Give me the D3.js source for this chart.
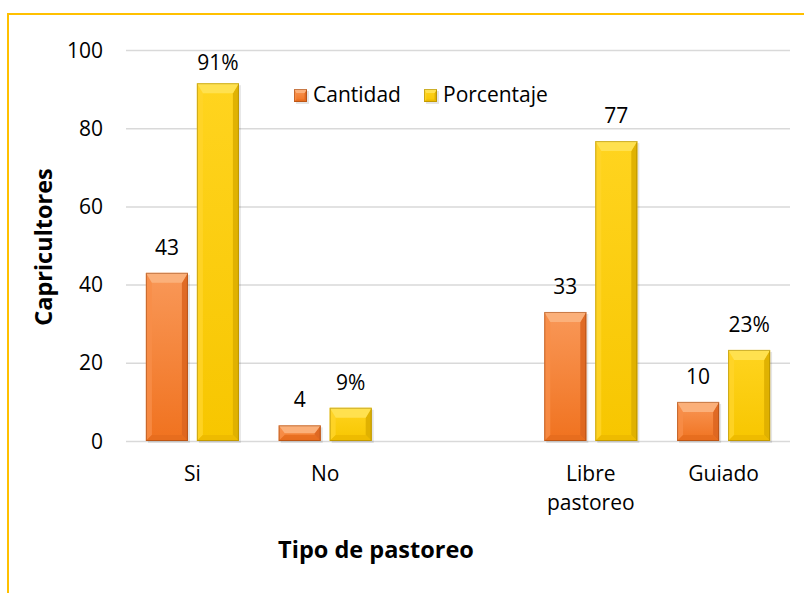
<!DOCTYPE html>
<html><head><meta charset="utf-8">
<script src="https://cdn.jsdelivr.net/npm/d3@7"></script>
<style>body{margin:0;background:#fff}svg{display:block}text{font-family:"Open Sans",sans-serif;fill:#000}</style>
</head><body>
<script>
const categories = ["Si", "No", "", "Libre pastoreo", "Guiado"];
const cantidad = [43, 4, null, 33, 10];
const porcentaje = [91.5, 8.5, null, 76.7, 23.3];
const cantidadLabels = ["43", "4", null, "33", "10"];
const porcentajeLabels = ["91%", "9%", null, "77", "23%"];
const seriesNames = ["Cantidad", "Porcentaje"];
const yTicks = [0, 20, 40, 60, 80, 100];

const W = 804, H = 593;
const svg = d3.select("body").append("svg").attr("width", W).attr("height", H);

const palette = {
  Cantidad: {id: "gC", g0: "#F99858", g1: "#F0721F", top: "#FBB07A", left: "#F88D48", right: "#DD6620", bottom: "#E56B1E", edge: "#8A3A0C"},
  Porcentaje: {id: "gP", g0: "#FFD41F", g1: "#F7C600", top: "#FFE14F", left: "#FFD52A", right: "#DDAE00", bottom: "#EBB800", edge: "#8F7300"}
};
const defs = svg.append("defs");
Object.values(palette).forEach(c => {
  const lg = defs.append("linearGradient").attr("id", c.id).attr("x1", 0).attr("y1", 0).attr("x2", 0).attr("y2", 1);
  lg.append("stop").attr("offset", "0%").attr("stop-color", c.g0);
  lg.append("stop").attr("offset", "100%").attr("stop-color", c.g1);
});

// frame
svg.append("rect").attr("x", 8).attr("y", 14).attr("width", W + 20).attr("height", H + 20)
  .attr("fill", "none").attr("stroke", "#FFC000").attr("stroke-width", 2);

const plot = {left: 126, right: 790, top: 50, bottom: 441};
const x = d3.scaleBand().domain(categories.map((c, i) => i)).range([plot.left, plot.right]).padding(0);
const xs = d3.scaleBand().domain(seriesNames).range([0, x.bandwidth()]).paddingInner(0.176).paddingOuter(0.39);
const y = d3.scaleLinear().domain([0, 100]).range([plot.bottom, plot.top]);

// gridlines
const yAxis = d3.axisLeft(y).tickValues(yTicks).tickSize(-(plot.right - plot.left)).tickPadding(23);
const ga = svg.append("g").attr("transform", `translate(${plot.left},0)`).call(yAxis);
ga.select(".domain").remove();
ga.selectAll(".tick line").attr("stroke", "#D9D9D9").attr("stroke-width", 1.5);
ga.selectAll(".tick text").attr("font-size", 21).attr("font-family", "Open Sans").attr("fill", "#000").attr("dy", "0.34em");

// bars with bevel
function bevelBar(g, bx, by, bw, bh, c, bev) {
  const b = Math.min(bev, bh / 2, bw / 2);
  const s = Math.min(bev * 0.6, bh / 2, bw / 2);
  g.append("rect").attr("x", bx + 2).attr("y", by + 2).attr("width", bw).attr("height", bh).attr("fill", "rgba(0,0,0,0.10)");
  g.append("rect").attr("x", bx).attr("y", by).attr("width", bw).attr("height", bh).attr("fill", `url(#${c.id})`);
  const poly = pts => g.append("polygon").attr("points", pts.map(p => p.join(",")).join(" "));
  poly([[bx, by], [bx + s, by + b], [bx + s, by + bh - s], [bx, by + bh]]).attr("fill", c.left).attr("opacity", 0.8);
  poly([[bx + bw, by], [bx + bw, by + bh], [bx + bw - s, by + bh - s], [bx + bw - s, by + b]]).attr("fill", c.right).attr("opacity", 0.9);
  poly([[bx, by + bh], [bx + s, by + bh - s], [bx + bw - s, by + bh - s], [bx + bw, by + bh]]).attr("fill", c.bottom).attr("opacity", 0.8);
  poly([[bx, by], [bx + bw, by], [bx + bw - s, by + b], [bx + s, by + b]]).attr("fill", c.top);
  g.append("rect").attr("x", bx + 0.5).attr("y", by + 0.5).attr("width", bw - 1).attr("height", bh - 1)
    .attr("fill", "none").attr("stroke", c.edge).attr("stroke-opacity", 0.45).attr("stroke-width", 1);
}

const series = [
  {name: "Cantidad", values: cantidad, labels: cantidadLabels},
  {name: "Porcentaje", values: porcentaje, labels: porcentajeLabels}
];
const barsG = svg.append("g");
series.forEach(s => {
  s.values.forEach((v, i) => {
    if (v == null) return;
    const bx = x(i) + xs(s.name), bw = xs.bandwidth();
    const by = y(v), bh = y(0) - y(v);
    bevelBar(barsG.append("g"), bx, by, bw, bh, palette[s.name], 10);
    barsG.append("text").attr("x", bx + bw / 2).attr("y", Math.max(by - 18, 70))
      .attr("text-anchor", "middle").attr("font-size", 21).text(s.labels[i]);
  });
});

// category labels
categories.forEach((c, i) => {
  if (!c) return;
  const words = c === "Libre pastoreo" ? ["Libre", "pastoreo"] : [c];
  const t = svg.append("text").attr("x", x(i) + x.bandwidth() / 2).attr("y", 481).attr("text-anchor", "middle").attr("font-size", 21);
  words.forEach((w, k) => t.append("tspan").attr("x", x(i) + x.bandwidth() / 2).attr("dy", k ? 29 : 0).text(w));
});

// axis titles
svg.append("text").attr("transform", "translate(52,247) rotate(-90)").attr("text-anchor", "middle")
  .attr("font-size", 23.5).attr("font-weight", "bold").text("Capricultores");
svg.append("text").attr("x", 376).attr("y", 558).attr("text-anchor", "middle")
  .attr("font-size", 23.5).attr("font-weight", "bold").text("Tipo de pastoreo");

// legend
const legendX = [294, 424];
series.forEach((s, k) => {
  const g = svg.append("g");
  bevelBar(g, legendX[k], 89, 13, 13, palette[s.name], 4);
  svg.append("text").attr("x", legendX[k] + 19).attr("y", 102).attr("font-size", 21).text(s.name);
});
</script>
</body></html>
